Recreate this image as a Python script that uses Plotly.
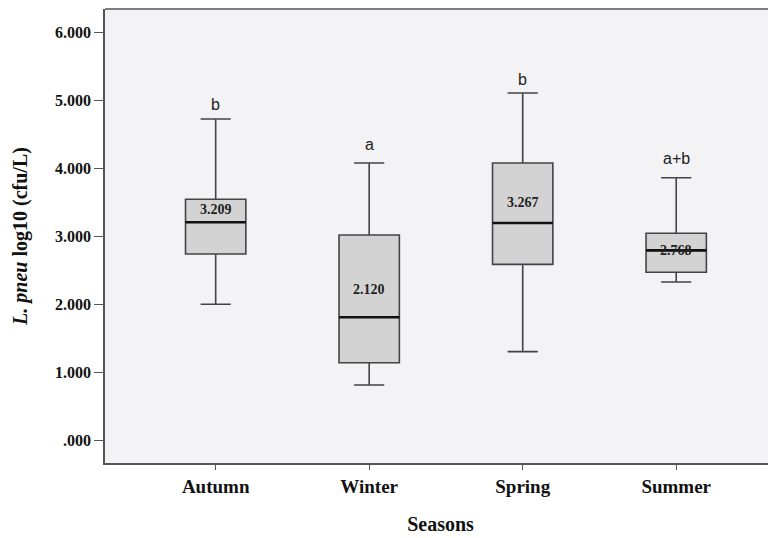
import plotly.graph_objects as go

seasons = ["Autumn", "Winter", "Spring", "Summer"]
lower_whisker = [2.004, 0.818, 1.308, 2.332]
q1 = [2.743, 1.146, 2.591, 2.474]
median = [3.209, 1.813, 3.199, 2.797]
q3 = [3.547, 3.022, 4.080, 3.047]
upper_whisker = [4.727, 4.080, 5.109, 3.864]
mean_labels = ["3.209", "2.120", "3.267", "2.768"]
mean_label_y = [3.40, 2.224, 3.497, 2.797]
group_letters = ["b", "a", "b", "a+b"]
letter_y = [4.947, 4.355, 5.30, 4.149]
y_tick_vals = [0, 1, 2, 3, 4, 5, 6]
y_tick_text = [".000", "1.000", "2.000", "3.000", "4.000", "5.000", "6.000"]

BOX_W = 0.393
pos = list(range(len(seasons)))
SERIF = "Liberation Serif"

fig = go.Figure()
fig.add_trace(go.Box(
    x=pos, q1=q1, median=median, q3=q3,
    lowerfence=lower_whisker, upperfence=upper_whisker,
    width=BOX_W, whiskerwidth=0.5,
    fillcolor="#d3d3d3",
    line=dict(color="#444444", width=1.6),
    boxpoints=False, showlegend=False, hoverinfo="skip",
))

# thick median lines
mx, my = [], []
for p, m in zip(pos, median):
    mx += [p - BOX_W / 2, p + BOX_W / 2, None]
    my += [m, m, None]
fig.add_trace(go.Scatter(x=mx, y=my, mode="lines",
                         line=dict(color="#111111", width=2.6),
                         showlegend=False, hoverinfo="skip"))

for p, t, yy in zip(pos, mean_labels, mean_label_y):
    fig.add_annotation(x=p, y=yy, text="<b>" + t + "</b>", showarrow=False,
                       font=dict(family=SERIF, size=14, color="#222222"))
for p, t, yy in zip(pos, group_letters, letter_y):
    fig.add_annotation(x=p, y=yy, text=t, showarrow=False,
                       font=dict(family="Liberation Sans", size=16, color="#222222"))

# top border of plot area
fig.add_shape(type="line", xref="paper", yref="paper", x0=0, x1=1, y0=1, y1=1,
              line=dict(color="#555555", width=1.6))

fig.update_layout(
    width=776, height=538,
    margin=dict(l=97, r=8, t=1, b=83),
    paper_bgcolor="white",
    plot_bgcolor="#f3f2f4",
    xaxis=dict(
        range=[-0.721, 3.65], tickvals=pos, ticktext=["<b>%s</b>" % s for s in seasons],
        showgrid=False, zeroline=False, showline=True, linecolor="#555555", linewidth=1.6,
        ticks="outside", ticklen=5, tickcolor="#555555", tickwidth=1.2,
        tickfont=dict(family=SERIF, size=19, color="#111111"),
        title=dict(text="<b>Seasons</b>", font=dict(family=SERIF, size=20, color="#111111"),
                   standoff=21),
    ),
    yaxis=dict(
        range=[-0.328, 6.343], tickvals=y_tick_vals, ticktext=["<b>%s</b>" % t for t in y_tick_text],
        showgrid=False, zeroline=False, showline=True, linecolor="#555555", linewidth=1.6,
        ticks="outside", ticklen=9, tickcolor="#555555", tickwidth=1.2,
        tickfont=dict(family=SERIF, size=16, color="#111111"),
        title=dict(text="<b><i>L. pneu</i> log10 (cfu/L)</b>",
                   font=dict(family=SERIF, size=20, color="#111111"), standoff=22),
    ),
)
fig.write_html("out.html")
